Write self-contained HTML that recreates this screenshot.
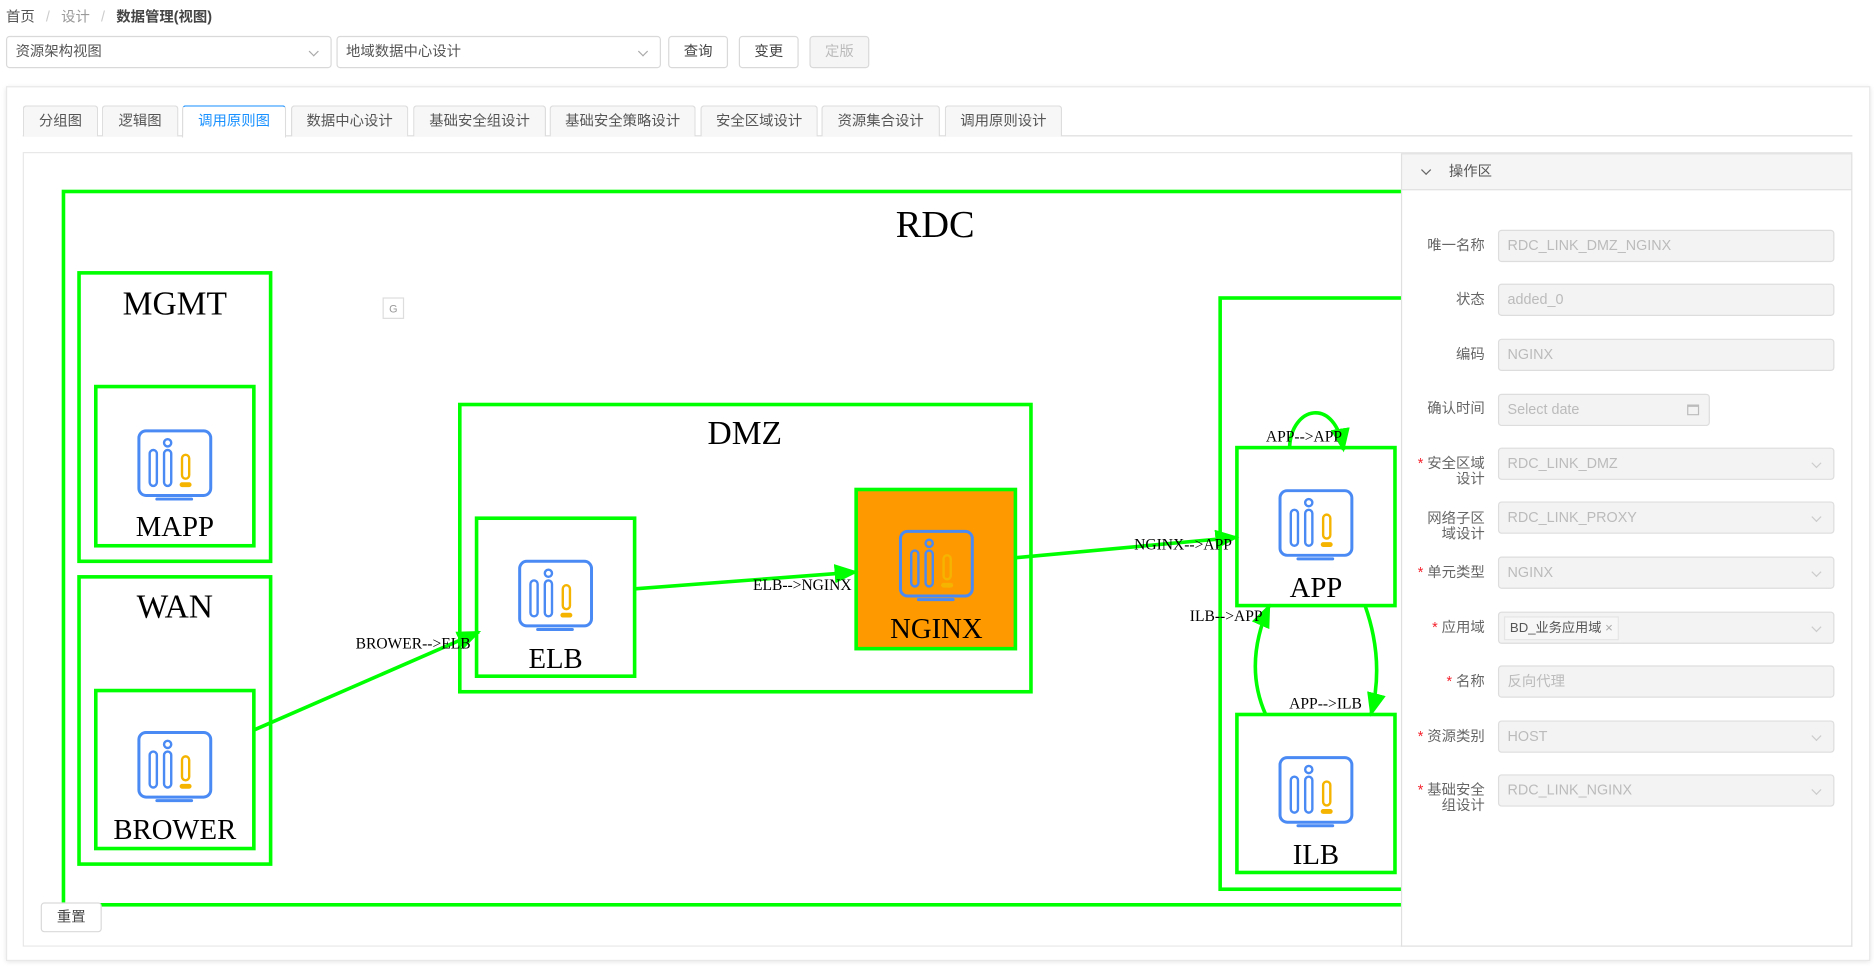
<!DOCTYPE html>
<html><head><meta charset="utf-8"><style>
*{box-sizing:border-box;margin:0;padding:0}
html,body{width:1874px;height:967px;overflow:hidden;background:#fff}
#w{position:absolute;left:0;top:0;width:1565px;height:808px;transform:scale(1.1974,1.1968);transform-origin:0 0;font-family:"Liberation Sans","Noto Sans CJK SC",sans-serif;font-size:12px;color:#333}
.a{position:absolute}
.sel{position:absolute;height:27px;border:1px solid #d9d9d9;border-radius:3px;background:#fff;padding:0 7px;line-height:25px;color:#555}
.sel i,.inp i{position:absolute;right:11px;top:9px;width:6px;height:6px;border-right:1px solid #aaa;border-bottom:1px solid #aaa;transform:rotate(45deg)}
.btn{position:absolute;height:27px;border:1px solid #d9d9d9;border-radius:3px;background:#fff;text-align:center;line-height:25px;color:#444}
.tab{position:absolute;top:88px;height:26px;border:1px solid #ddd;border-bottom:none;background:#f7f7f7;text-align:center;line-height:25px;color:#555;border-radius:3px 3px 0 0}
.lbl{position:absolute;width:100px;text-align:right;color:#666;font-size:12px;line-height:13px}
.lbl b{color:#f5222d;font-weight:normal}
.inp{position:absolute;left:1251px;width:281px;height:27px;border:1px solid #ddd;border-radius:3px;background:#f3f3f3;color:#bbb;padding-left:7px;line-height:25px}
.inp i{border-color:#ccc}
</style></head><body><div id="w">
<div class="a" style="left:5px;top:5px;color:#555">首页 <span style="color:#ccc;margin:0 6px">/</span> <span style="color:#999">设计</span> <span style="color:#ccc;margin:0 6px">/</span> <b style="color:#444">数据管理(视图)</b></div>
<div class="sel" style="left:5px;top:30px;width:272px">资源架构视图<i></i></div>
<div class="sel" style="left:281px;top:30px;width:271px">地域数据中心设计<i></i></div>
<div class="btn" style="left:558px;top:30px;width:50px">查询</div>
<div class="btn" style="left:617px;top:30px;width:50px">变更</div>
<div class="btn" style="left:676px;top:30px;width:50px;background:#f5f5f5;color:#bbb">定版</div>
<div class="a" style="left:5px;top:72px;width:1557px;height:731px;border:1px solid #e8e8e8;box-shadow:0 1px 4px rgba(0,0,0,.12);background:#fff"></div>
<div class="a" style="left:19px;top:113px;width:1528px;height:1px;background:#ddd"></div>
<div class="tab" style="left:19px;width:63px">分组图</div>
<div class="tab" style="left:85px;width:64px">逻辑图</div>
<div class="tab" style="left:152px;width:87px;background:#fff;color:#1890ff;border-color:#1890ff #ddd #ddd;height:27px;border-top:1px solid #1890ff">调用原则图</div>
<div class="tab" style="left:243px;width:98px">数据中心设计</div>
<div class="tab" style="left:345px;width:111px">基础安全组设计</div>
<div class="tab" style="left:459px;width:122px">基础安全策略设计</div>
<div class="tab" style="left:585px;width:98px">安全区域设计</div>
<div class="tab" style="left:686px;width:99px">资源集合设计</div>
<div class="tab" style="left:789px;width:98px">调用原则设计</div>
<div class="a" style="left:19px;top:127px;width:1528px;height:664px;border:1px solid #e8e8e8;overflow:hidden">
<svg width="1565" height="808" style="position:absolute;left:-20px;top:-128px" viewBox="0 0 1565 808">
<defs>
<g id="ic" fill="none" stroke-linecap="round">
<rect x="-30" y="-28" width="60" height="54" rx="6" stroke="#4a8af4" stroke-width="2.5"/>
<line x1="-15" y1="29" x2="14" y2="29" stroke="#4a8af4" stroke-width="2.5"/>
<circle cx="-6" cy="-18" r="3" stroke="#4a8af4" stroke-width="2"/>
<rect x="-21" y="-12" width="6" height="30" rx="3" stroke="#4a8af4" stroke-width="2"/>
<rect x="-9" y="-12" width="6" height="30" rx="3" stroke="#4a8af4" stroke-width="2"/>
<rect x="6" y="-8" width="6" height="20" rx="3" stroke="#f5b400" stroke-width="2"/>
<line x1="6" y1="17" x2="12" y2="17" stroke="#f5b400" stroke-width="4"/>
</g>
<marker id="ab" markerWidth="20" markerHeight="16" refX="18" refY="8" orient="auto" markerUnits="userSpaceOnUse"><path d="M0,0L20,8L0,16z" fill="#00ff00"/></marker>
</defs>
<g fill="none" stroke="#00ff00" stroke-width="3">
<rect x="53" y="160" width="1200" height="596"/>
<rect x="66" y="228" width="160" height="241"/>
<rect x="80" y="323" width="132" height="133"/>
<rect x="66" y="482" width="160" height="240"/>
<rect x="80" y="577" width="132" height="132"/>
<rect x="384" y="338" width="477" height="240"/>
<rect x="398" y="433" width="132" height="132"/>
<rect x="715" y="409" width="133" height="133" fill="#ff9900"/>
<rect x="1019" y="249" width="300" height="494"/>
<rect x="1033" y="374" width="132" height="132"/>
<rect x="1033" y="597" width="132" height="132"/>
<path d="M212,610L400,528" marker-end="url(#ab)"/>
<path d="M530,492L715,478" marker-end="url(#ab)"/>
<path d="M848,466L1033,449" marker-end="url(#ab)"/>
<path d="M1077,374C1078,340 1115,330 1122,376" marker-end="url(#ab)"/>
<path d="M1140,506C1152,540 1152,570 1145,597" marker-end="url(#ab)"/>
<path d="M1057,597C1045,570 1045,540 1060,506" marker-end="url(#ab)"/>
</g>
<use href="#ic" x="146" y="388"/><use href="#ic" x="146" y="640"/><use href="#ic" x="464" y="497"/>
<use href="#ic" x="782" y="472"/><use href="#ic" x="1099" y="438"/><use href="#ic" x="1099" y="661"/>
<g font-family="Liberation Serif,serif" fill="#000" text-anchor="middle">
<text x="781" y="198" font-size="32">RDC</text>
<text x="146" y="263" font-size="28">MGMT</text>
<text x="146" y="448" font-size="24">MAPP</text>
<text x="146" y="516" font-size="28">WAN</text>
<text x="146" y="701" font-size="24">BROWER</text>
<text x="622" y="371" font-size="28">DMZ</text>
<text x="464" y="558" font-size="24">ELB</text>
<text x="782" y="533" font-size="24">NGINX</text>
<text x="1099" y="499" font-size="24">APP</text>
<text x="1099" y="722" font-size="24">ILB</text>
<g font-size="13"><text x="345" y="542">BROWER--&gt;ELB</text><text x="670" y="493">ELB--&gt;NGINX</text><text x="988" y="459">NGINX--&gt;APP</text><text x="1089" y="369">APP--&gt;APP</text><text x="1107" y="592">APP--&gt;ILB</text><text x="1024" y="519">ILB--&gt;APP</text></g>
</g>
<rect x="320" y="249" width="17" height="17" fill="#fff" stroke="#ddd"/><text x="328.5" y="261" font-size="9" fill="#999" text-anchor="middle" font-family="Liberation Sans">G</text>
</svg>
</div>
<div class="btn" style="left:34px;top:754px;width:51px;height:25px;line-height:23px">重置</div>
<div class="a" style="left:1170px;top:128px;width:377px;height:663px;background:#fff;border-left:1px solid #e0e0e0;border-right:1px solid #e0e0e0;border-bottom:1px solid #e0e0e0"></div>
<div class="a" style="left:1170px;top:128px;width:377px;height:31px;background:#f5f5f5;border:1px solid #e0e0e0;line-height:29px;color:#555"><span style="position:absolute;left:17px;top:10px;width:6px;height:6px;border-right:1px solid #666;border-bottom:1px solid #666;transform:rotate(45deg)"></span><span style="margin-left:39px">操作区</span></div>
<div class="lbl" style="left:1140px;top:199px">唯一名称</div><div class="inp" style="top:192px">RDC_LINK_DMZ_NGINX</div>
<div class="lbl" style="left:1140px;top:244px">状态</div><div class="inp" style="top:237px">added_0</div>
<div class="lbl" style="left:1140px;top:290px">编码</div><div class="inp" style="top:283px">NGINX</div>
<div class="lbl" style="left:1140px;top:335px">确认时间</div><div class="inp" style="top:329px;width:177px">Select date<span style="position:absolute;right:8px;top:8px;width:10px;height:9px;border:1px solid #bbb;border-top-width:2px"></span></div>
<div class="lbl" style="left:1140px;top:381px"><b>*</b> 安全区域<br>设计</div><div class="inp" style="top:374px">RDC_LINK_DMZ<i></i></div>
<div class="lbl" style="left:1140px;top:427px">网络子区<br>域设计</div><div class="inp" style="top:419px">RDC_LINK_PROXY<i></i></div>
<div class="lbl" style="left:1140px;top:472px"><b>*</b> 单元类型</div><div class="inp" style="top:465px">NGINX<i></i></div>
<div class="lbl" style="left:1140px;top:518px"><b>*</b> 应用域</div><div class="inp" style="top:511px;padding-left:4px"><span style="display:inline-block;height:20px;line-height:18px;margin-top:2px;border:1px solid #e5e5e5;background:#f7f7f7;color:#555;padding:0 4px;font-size:11px">BD_业务应用域 <span style="color:#aaa">×</span></span><i></i></div>
<div class="lbl" style="left:1140px;top:563px"><b>*</b> 名称</div><div class="inp" style="top:556px">反向代理</div>
<div class="lbl" style="left:1140px;top:609px"><b>*</b> 资源类别</div><div class="inp" style="top:602px">HOST<i></i></div>
<div class="lbl" style="left:1140px;top:654px"><b>*</b> 基础安全<br>组设计</div><div class="inp" style="top:647px">RDC_LINK_NGINX<i></i></div>
</div></body></html>
